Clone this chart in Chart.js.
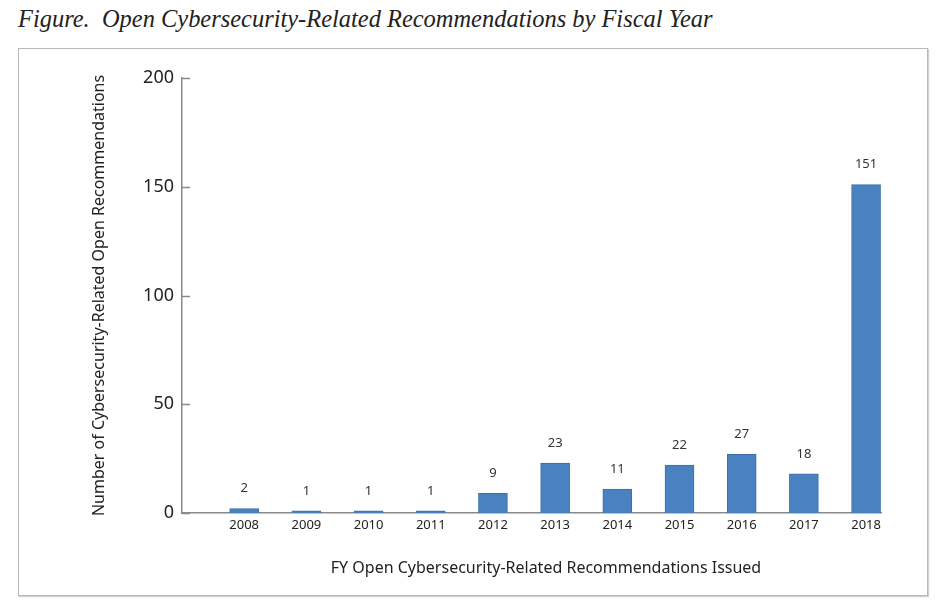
<!DOCTYPE html>
<html>
<head>
<meta charset="utf-8">
<script src="https://cdn.jsdelivr.net/npm/chart.js@4/dist/chart.umd.min.js"></script>
<style>
  html, body { margin: 0; padding: 0; background: #fff; }
  body { width: 944px; height: 608px; position: relative; overflow: hidden; }
  #title {
    position: absolute; left: 18px; top: 4px;
    font: italic 26px "Liberation Serif", serif;
    color: #222; white-space: pre;
    transform: scaleX(0.94); transform-origin: left top;
  }
  #box {
    position: absolute; left: 18px; top: 48px; width: 908px; height: 546px;
    border: 1px solid #b8b8b8;
    box-shadow: 1px 1px 1px #d0d0d0;
  }
  #chart { position: absolute; left: 0; top: 0; }
</style>
</head>
<body>
<div id="title">Figure.  Open Cybersecurity-Related Recommendations by Fiscal Year</div>
<div id="box"><canvas id="chart" width="908" height="546"></canvas></div>
<script>
// Fiscal years and open recommendation counts
const years = [2008, 2009, 2010, 2011, 2012, 2013, 2014, 2015, 2016, 2017, 2018];
const openRecs = [2, 1, 1, 1, 9, 23, 11, 22, 27, 18, 151];
const yTicks = [0, 50, 100, 150, 200];

const FONT = '"Noto Sans", sans-serif';
const AXIS_GREY = '#8a8a8a';
const X_TITLE = 'FY Open Cybersecurity-Related Recommendations Issued';

// Inside-pointing tick marks on the y axis
const innerTicks = {
  id: 'innerTicks',
  afterDraw(chart) {
    const { ctx, chartArea, scales: { y } } = chart;
    ctx.save();
    ctx.strokeStyle = AXIS_GREY;
    ctx.lineWidth = 1.5;
    yTicks.forEach(v => {
      const py = Math.round(y.getPixelForValue(v)) + 0.5;
      ctx.beginPath();
      ctx.moveTo(chartArea.left, py);
      ctx.lineTo(chartArea.left + 8, py);
      ctx.stroke();
    });
    ctx.restore();
  },
};

// Value labels above each bar, plus the x-axis title (sits right of centre)
const barLabels = {
  id: 'barLabels',
  afterDatasetsDraw(chart) {
    const { ctx, chartArea } = chart;
    const meta = chart.getDatasetMeta(0);
    ctx.save();
    ctx.fillStyle = '#333';
    ctx.font = '13px ' + FONT;
    ctx.textAlign = 'center';
    ctx.textBaseline = 'middle';
    meta.data.forEach((bar, i) => {
      ctx.fillText(String(openRecs[i]), bar.x, bar.y - 20);
    });
    ctx.fillStyle = '#222';
    ctx.font = '16px ' + FONT;
    ctx.fillText(X_TITLE, 527, chartArea.bottom + 55);
    ctx.restore();
  },
};

new Chart(document.getElementById('chart'), {
  type: 'bar',
  data: {
    datasets: [{
      data: years.map((yr, i) => ({ x: yr, y: openRecs[i] })),
      backgroundColor: '#4a82c1',
      borderColor: '#3c6fa9',
      borderWidth: 1,
      barThickness: 29,
    }],
  },
  options: {
    responsive: false,
    animation: false,
    layout: { padding: { top: 29, right: 46, bottom: 0, left: 0 } },
    plugins: { legend: { display: false }, tooltip: { enabled: false } },
    scales: {
      x: {
        type: 'linear',
        offset: false,
        min: 2007,
        max: 2018.24,
        afterBuildTicks: scale => { scale.ticks = years.map(v => ({ value: v })); },
        afterFit: scale => { scale.height = 82; },
        grid: { display: false, drawTicks: false },
        border: { display: true, color: AXIS_GREY, width: 1.5 },
        ticks: {
          autoSkip: false, maxRotation: 0, padding: 4,
          color: '#222', font: { family: FONT, size: 13 },
          callback: v => String(v),
        },
      },
      y: {
        min: 0,
        max: 200,
        afterBuildTicks: scale => { scale.ticks = yTicks.map(v => ({ value: v })); },
        afterFit: scale => { scale.width = 163; },
        grid: { display: false, drawTicks: false },
        border: { display: true, color: AXIS_GREY, width: 1.5 },
        ticks: { padding: 8, color: '#222', font: { family: FONT, size: 18 } },
        title: {
          display: true,
          text: 'Number of Cybersecurity-Related Open Recommendations',
          color: '#222', font: { family: FONT, size: 16 },
          padding: { top: 71, bottom: 0 },
        },
      },
    },
  },
  plugins: [innerTicks, barLabels],
});
</script>
</body>
</html>
